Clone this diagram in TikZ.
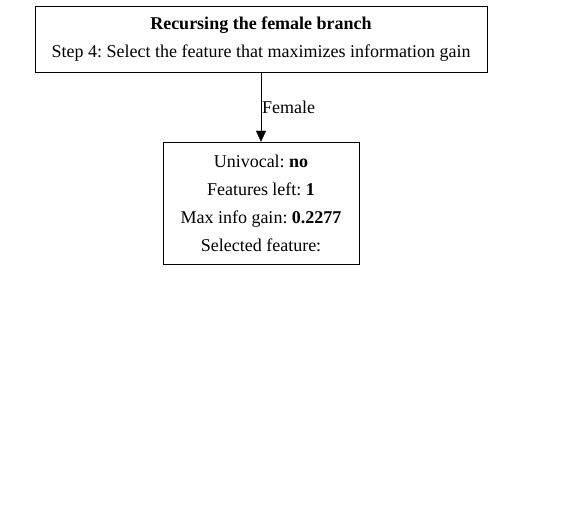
\documentclass[tikz,border=0pt]{standalone}
\usepackage{fontspec}
\setmainfont{Liberation Serif}
\usetikzlibrary{arrows.meta,positioning}
\frenchspacing

\begin{document}
\begin{tikzpicture}[->,>={Triangle[length=11bp,width=10bp]},x=1bp,y=-1bp,
  box/.style={draw,rectangle,align=center,inner sep=0pt,
    font=\fontsize{18bp}{28bp}\selectfont}]
\useasboundingbox (0,0) rectangle (563,505);
\node[box,minimum width=452bp,minimum height=66bp] (Step)   at (261,39)
  {\textbf{Recursing the female branch}\\Step 4: Select the feature that maximizes information gain};
\node[box,minimum width=196bp,minimum height=122bp] (Female) at (261,203)
  {Univocal: \textbf{no}\\Features left: \textbf{1}\\Max info gain: \textbf{0.2277}\\Selected feature:};
\path (Step) edge node [right,inner sep=1bp,font=\fontsize{18bp}{20bp}\selectfont] {Female} (Female);
\end{tikzpicture}
\end{document}
